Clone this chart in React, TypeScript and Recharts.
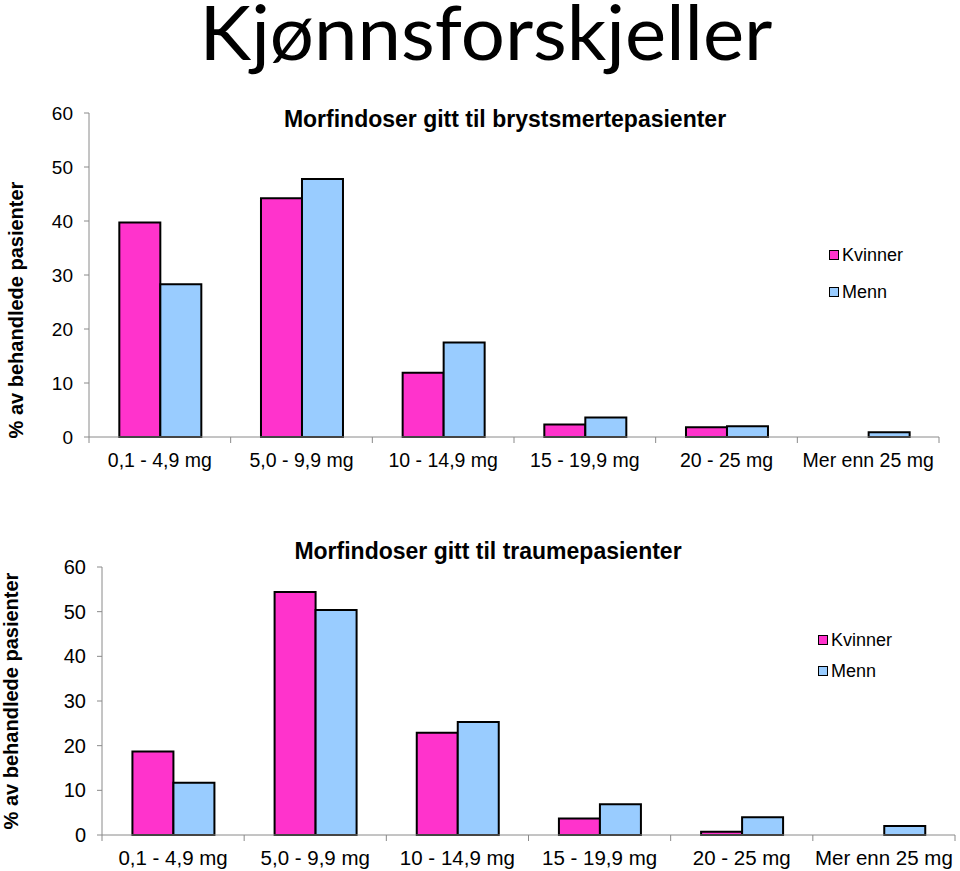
import { BarChart, Bar, XAxis, YAxis, Legend } from "recharts";

const categories = [
  "0,1 - 4,9 mg",
  "5,0 - 9,9 mg",
  "10 - 14,9 mg",
  "15 - 19,9 mg",
  "20 - 25 mg",
  "Mer enn 25 mg",
];
const brystKvinner = [39.7, 44.2, 11.9, 2.3, 1.8, 0];
const brystMenn = [28.3, 47.8, 17.5, 3.6, 2.0, 0.9];
const traumeKvinner = [18.7, 54.4, 22.9, 3.7, 0.7, 0];
const traumeMenn = [11.7, 50.4, 25.3, 6.9, 4.0, 2.0];
const yTicks = [0, 10, 20, 30, 40, 50, 60];
const seriesNames = ["Kvinner", "Menn"];
const seriesColors = ["#FF33CC", "#99CCFF"];

const AXIS = "#8a8a8a";
const FONT = '"Liberation Sans", Arial, sans-serif';

function toRows(k: number[], m: number[]) {
  return categories.map((c, i) => ({ name: c, Kvinner: k[i], Menn: m[i] }));
}

function CategoryTick(props: any) {
  const { x, y, payload, index, width, fontSize } = props;
  const half = payload.offset ?? width / categories.length / 2;
  const axisY = y - 8;
  return (
    <g>
      <line x1={x - half} x2={x - half} y1={axisY} y2={axisY + 6} stroke={AXIS} />
      {index === categories.length - 1 && (
        <line x1={x + half} x2={x + half} y1={axisY} y2={axisY + 6} stroke={AXIS} />
      )}
      <text x={x} y={axisY + 30} textAnchor="middle" fontSize={fontSize} fill="#000">
        {payload.value}
      </text>
    </g>
  );
}

function makeLegend(rowGap: number) {
  return () => (
    <div style={{ fontFamily: FONT, fontSize: 18, color: "#000" }}>
      {seriesNames.map((n, i) => (
        <div
          key={n}
          style={{ display: "flex", alignItems: "center", height: 20, marginBottom: i === 0 ? rowGap : 0 }}
        >
          <span
            style={{
              width: 8,
              height: 8,
              background: seriesColors[i],
              border: "1.5px solid #000",
              marginRight: 3,
            }}
          />
          <span>{n}</span>
        </div>
      ))}
    </div>
  );
}

type ChartProps = {
  rows: any[];
  top: number;
  height: number;
  margin: { top: number; right: number; left: number; bottom: number };
  yWidth: number;
  fontSize: number;
  legendPos: { left: number; top: number };
  legendGap: number;
};

function MorfinChart({ rows, top, height, margin, yWidth, fontSize, legendPos, legendGap }: ChartProps) {
  return (
    <div style={{ position: "absolute", left: 0, top }}>
      <BarChart width={960} height={height} data={rows} margin={margin} barCategoryGap="21.4%" barGap={0}>
        <XAxis
          dataKey="name"
          height={30}
          stroke={AXIS}
          tickLine={false}
          interval={0}
          tick={<CategoryTick fontSize={fontSize + 0.5} />}
        />
        <YAxis
          width={yWidth}
          domain={[0, 60]}
          ticks={yTicks}
          stroke={AXIS}
          tickSize={5}
          tickMargin={11}
          tick={{ fill: "#000", fontSize }}
        />
        <Legend
          layout="vertical"
          align="center"
          verticalAlign="middle"
          content={makeLegend(legendGap)}
          wrapperStyle={{ left: legendPos.left, top: legendPos.top, width: "auto" }}
        />
        {seriesNames.map((n, i) => (
          <Bar
            key={n}
            dataKey={n}
            fill={seriesColors[i]}
            stroke="#000"
            strokeWidth={2}
            isAnimationActive={false}
          />
        ))}
      </BarChart>
    </div>
  );
}

export default function App() {
  return (
    <div
      style={{
        position: "absolute",
        left: 0,
        top: 0,
        width: 960,
        height: 871,
        background: "#fff",
        fontFamily: FONT,
        overflow: "hidden",
      }}
    >
      <MorfinChart
        rows={toRows(brystKvinner, brystMenn)}
        top={0}
        height={480}
        margin={{ top: 113, right: 21, left: 0, bottom: 13 }}
        yWidth={89}
        fontSize={19}
        legendPos={{ left: 829, top: 245 }}
        legendGap={17}
      />
      <MorfinChart
        rows={toRows(traumeKvinner, traumeMenn)}
        top={480}
        height={391}
        margin={{ top: 87, right: 5, left: 0, bottom: 6 }}
        yWidth={102}
        fontSize={20}
        legendPos={{ left: 818, top: 150 }}
        legendGap={11}
      />
      <svg
        width={960}
        height={871}
        style={{ position: "absolute", left: 0, top: 0, pointerEvents: "none" }}
      >
        <text
          x={486}
          y={60}
          textAnchor="middle"
          fontFamily="Lato, sans-serif"
          fontSize={76}
          textLength={573}
          lengthAdjust="spacingAndGlyphs"
          fill="#000"
        >
          Kjønnsforskjeller
        </text>
        <text x={505} y={127} textAnchor="middle" fontWeight="bold" fontSize={23} fill="#000">
          Morfindoser gitt til brystsmertepasienter
        </text>
        <text x={488} y={559} textAnchor="middle" fontWeight="bold" fontSize={23} fill="#000">
          Morfindoser gitt til traumepasienter
        </text>
        <text
          transform="translate(16,310) rotate(-90)"
          textAnchor="middle"
          dominantBaseline="central"
          fontWeight="bold"
          fontSize={20}
          fill="#000"
        >
          % av behandlede pasienter
        </text>
        <text
          transform="translate(11,701) rotate(-90)"
          textAnchor="middle"
          dominantBaseline="central"
          fontWeight="bold"
          fontSize={20}
          fill="#000"
        >
          % av behandlede pasienter
        </text>
      </svg>
    </div>
  );
}
